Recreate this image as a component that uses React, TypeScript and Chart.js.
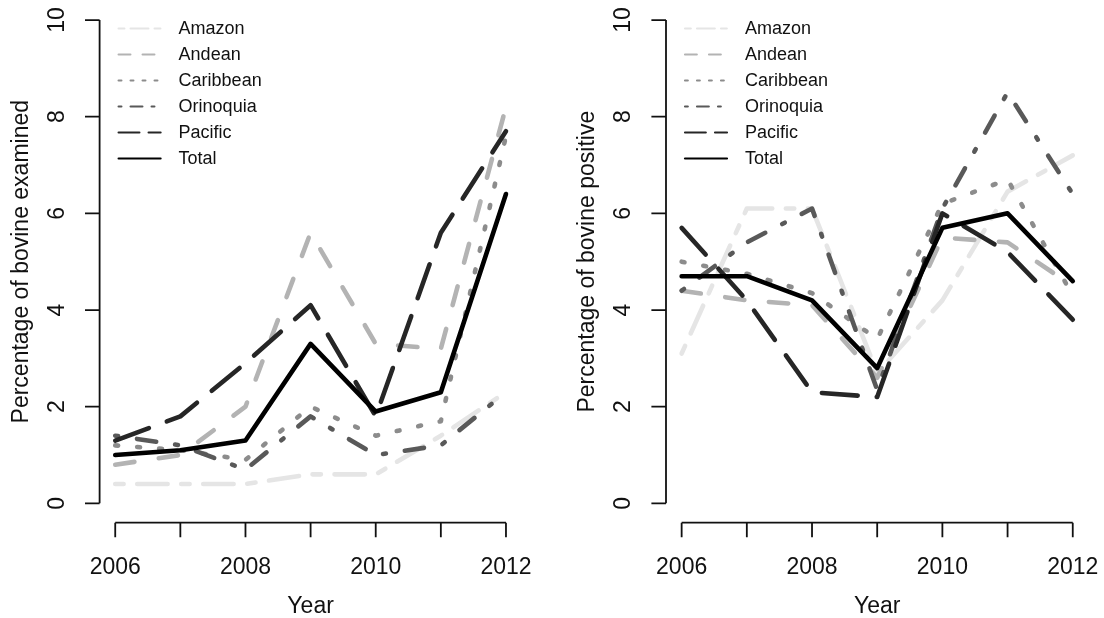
import React, { useEffect, useRef } from "react";
import { Chart, registerables } from "chart.js";

Chart.register(...registerables);

// ---------- data ----------
const years = [2006, 2007, 2008, 2009, 2010, 2011, 2012];
const xTickLabels = ["2006", "2008", "2010", "2012"];
const yTickValues = [0, 2, 4, 6, 8, 10];
const regionNames = ["Amazon", "Andean", "Caribbean", "Orinoquia", "Pacific", "Total"];

// Percentage of bovine examined
const amazonExamined = [0.4, 0.4, 0.4, 0.6, 0.6, 1.4, 2.3];
const andeanExamined = [0.8, 1.0, 2.0, 5.6, 3.3, 3.2, 8.2];
const caribbeanExamined = [1.2, 1.1, 0.9, 2.0, 1.4, 1.7, 7.6];
const orinoquiaExamined = [1.4, 1.2, 0.7, 1.8, 1.0, 1.2, 2.3];
const pacificExamined = [1.3, 1.8, 2.9, 4.1, 1.8, 5.6, 7.7];
const totalExamined = [1.0, 1.1, 1.3, 3.3, 1.9, 2.3, 6.4];

// Percentage of bovine positive
const amazonPositive = [3.1, 6.1, 6.1, 2.7, 4.2, 6.45, 7.2];
const andeanPositive = [4.4, 4.2, 4.1, 2.6, 5.5, 5.4, 4.5];
const caribbeanPositive = [5.0, 4.75, 4.35, 3.4, 6.2, 6.7, 4.3];
const orinoquiaPositive = [4.4, 5.4, 6.1, 2.35, 6.1, 8.5, 6.4];
const pacificPositive = [5.7, 4.2, 2.3, 2.2, 6.0, 5.2, 3.8];
const totalPositive = [4.7, 4.7, 4.2, 2.8, 5.7, 6.0, 4.6];

// ---------- styles ----------
const lineColors = ["#e5e5e5", "#b3b3b3", "#8c8c8c", "#595959", "#262626", "#000000"];
// R line types: twodash, dashed, dotted, dotdash, longdash, solid
const ltyUnits: number[][] = [
  [2, 2, 6, 2],
  [4, 4],
  [1, 3],
  [1, 3, 4, 3],
  [7, 3],
  [],
];
const FONT = '"Liberation Sans", Arial, Helvetica, sans-serif';

function dashFor(units: number[], unit: number, width: number): number[] {
  if (!units.length) return [];
  // round caps add width to each visible dash; compensate
  return units.map((u, i) => (i % 2 === 0 ? Math.max(0.01, u * unit - width + 2) : u * unit + width - 2));
}

const rStylePlugin = {
  id: "rStyle",
  afterDraw(chart: any, _args: any, opts: any) {
    const { ctx, chartArea, scales } = chart;
    const x = scales.x;
    const y = scales.y;
    ctx.save();
    ctx.setLineDash([]);
    ctx.strokeStyle = "#111";
    ctx.fillStyle = "#111";
    ctx.lineWidth = 1.8;
    ctx.lineCap = "butt";

    // x axis
    const yb = chartArea.bottom;
    const tickLen = 14.6;
    ctx.beginPath();
    ctx.moveTo(x.getPixelForValue(years[0]), yb);
    ctx.lineTo(x.getPixelForValue(years[years.length - 1]), yb);
    years.forEach((yr) => {
      const px = x.getPixelForValue(yr);
      ctx.moveTo(px, yb);
      ctx.lineTo(px, yb + tickLen);
    });
    // y axis
    const xl = chartArea.left;
    ctx.moveTo(xl, y.getPixelForValue(yTickValues[0]));
    ctx.lineTo(xl, y.getPixelForValue(yTickValues[yTickValues.length - 1]));
    yTickValues.forEach((v) => {
      const py = y.getPixelForValue(v);
      ctx.moveTo(xl, py);
      ctx.lineTo(xl - tickLen, py);
    });
    ctx.stroke();

    ctx.font = "23px " + FONT;
    ctx.textAlign = "center";
    ctx.textBaseline = "middle";
    xTickLabels.forEach((lbl) => {
      ctx.fillText(lbl, x.getPixelForValue(Number(lbl)), yb + 45);
    });
    ctx.fillText("Year", (chartArea.left + chartArea.right) / 2, yb + 84);

    yTickValues.forEach((v) => {
      ctx.save();
      ctx.translate(xl - 42, y.getPixelForValue(v));
      ctx.rotate(-Math.PI / 2);
      ctx.fillText(String(v), 0, 0);
      ctx.restore();
    });
    ctx.save();
    ctx.translate(xl - 78, (chartArea.top + chartArea.bottom) / 2);
    ctx.rotate(-Math.PI / 2);
    ctx.fillText(opts.yTitle, 0, 0);
    ctx.restore();

    // legend
    ctx.font = "18px " + FONT;
    ctx.textAlign = "left";
    regionNames.forEach((name, i) => {
      const ry = chartArea.top + 27.8 + i * 26;
      ctx.save();
      ctx.strokeStyle = lineColors[i];
      ctx.lineWidth = 2.2;
      ctx.lineCap = "round";
      ctx.setLineDash(dashFor(ltyUnits[i], 3, 2.2));
      ctx.beginPath();
      ctx.moveTo(xl + 19, ry);
      ctx.lineTo(xl + 61, ry);
      ctx.stroke();
      ctx.restore();
      ctx.fillStyle = "#111";
      ctx.fillText(name, xl + 79, ry + 1);
    });
    ctx.restore();
  },
};

type PanelProps = {
  series: number[][];
  yTitle: string;
  left: number;
  padLeft: number;
  padRight: number;
};

function Panel({ series, yTitle, left, padLeft, padRight }: PanelProps) {
  const ref = useRef<HTMLCanvasElement | null>(null);
  useEffect(() => {
    if (!ref.current) return;
    const lw = 4.6;
    const datasets = series.map((vals, i) => ({
      label: regionNames[i],
      data: vals.map((v, j) => ({ x: years[j], y: v })),
      borderColor: lineColors[i],
      backgroundColor: lineColors[i],
      borderWidth: lw,
      borderDash: dashFor(ltyUnits[i], 5.5, lw),
      borderCapStyle: "round" as const,
      borderJoinStyle: "round" as const,
      pointRadius: 0,
      pointHoverRadius: 0,
      tension: 0,
      fill: false,
      order: series.length - 1 - i,
    }));
    const chart = new Chart(ref.current, {
      type: "line",
      data: { datasets },
      options: {
        animation: false,
        responsive: false,
        devicePixelRatio: 1,
        events: [],
        layout: { padding: { left: padLeft, right: padRight, top: 0.7, bottom: 95.3 } },
        scales: {
          x: { type: "linear", min: 2005.76, max: 2012.24, display: false },
          y: { type: "linear", min: -0.4, max: 10.4, display: false },
        },
        plugins: {
          legend: { display: false },
          tooltip: { enabled: false },
          rStyle: { yTitle },
        } as any,
      },
      plugins: [rStylePlugin],
    });
    return () => chart.destroy();
  }, []);
  return (
    <canvas
      ref={ref}
      width={552}
      height={618}
      style={{ position: "absolute", left, top: 0, width: 552, height: 618 }}
    />
  );
}

export default function App() {
  return (
    <div style={{ position: "absolute", left: 0, top: 0, width: 1104, height: 618, background: "#fff" }}>
      <Panel
        series={[amazonExamined, andeanExamined, caribbeanExamined, orinoquiaExamined, pacificExamined, totalExamined]}
        yTitle="Percentage of bovine examined"
        left={0}
        padLeft={99.6}
        padRight={30.4}
      />
      <Panel
        series={[amazonPositive, andeanPositive, caribbeanPositive, orinoquiaPositive, pacificPositive, totalPositive]}
        yTitle="Percentage of bovine positive"
        left={552}
        padLeft={114}
        padRight={15.6}
      />
    </div>
  );
}
